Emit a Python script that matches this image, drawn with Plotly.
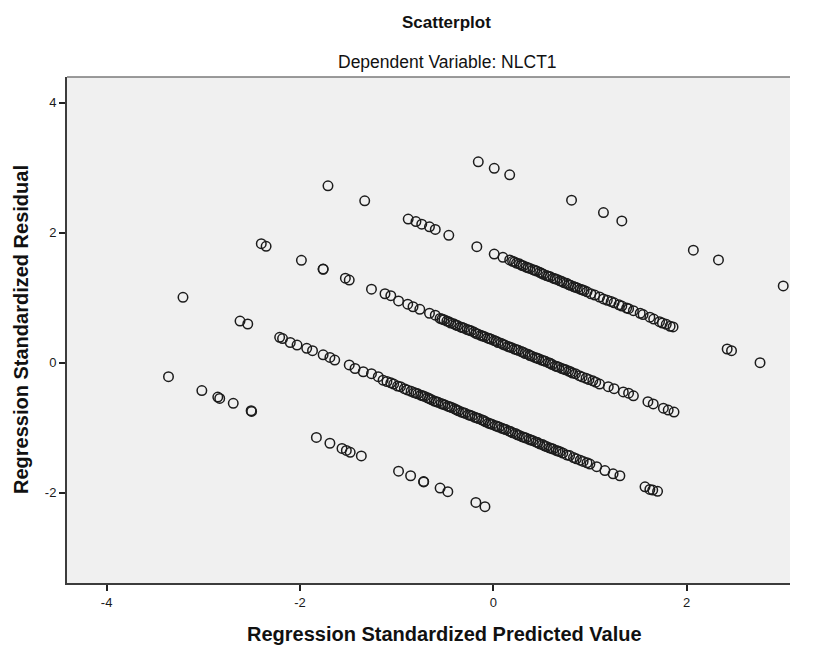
import plotly.graph_objects as go

# Band with highest residual level
top_x = [-0.155, 0.01, 0.17, 0.81, 1.14, 1.33, 2.07, 2.33, 3.00]
top_y = [3.09, 2.99, 2.89, 2.50, 2.31, 2.18, 1.73, 1.58, 1.18]

# Band A
a_x = [-1.71, -1.33, -0.88, -0.80, -0.74, -0.66, -0.60, -0.46, -0.17, 0.01, 0.10,
       0.17, 0.20, 0.24, 0.27, 0.31, 0.34, 0.38, 0.41, 0.45, 0.48, 0.52, 0.55, 0.59,
       0.62, 0.66, 0.69, 0.73, 0.76, 0.80, 0.83, 0.87, 0.90, 0.94, 0.97, 1.01, 1.05,
       1.10, 1.14, 1.18, 1.22, 1.25, 1.30, 1.33, 1.38, 1.40, 1.45, 1.52, 1.55, 1.62,
       1.66, 1.72, 1.75, 1.79, 1.83, 1.86, 2.42, 2.465, 2.76,
       0.22, 0.29, 0.36, 0.43, 0.50, 0.57, 0.64, 0.71, 0.78, 0.85, 0.92]
a_y = [2.72, 2.49, 2.21, 2.17, 2.13, 2.09, 2.05, 1.96, 1.785, 1.67, 1.62,
       1.58, 1.56, 1.53, 1.52, 1.49, 1.47, 1.45, 1.43, 1.41, 1.39, 1.36, 1.34, 1.32,
       1.30, 1.28, 1.26, 1.23, 1.22, 1.19, 1.17, 1.15, 1.13, 1.11, 1.09, 1.06, 1.04,
       1.01, 0.98, 0.96, 0.94, 0.92, 0.89, 0.87, 0.84, 0.83, 0.80, 0.76, 0.74, 0.70,
       0.67, 0.63, 0.61, 0.59, 0.56, 0.55, 0.21, 0.185, 0.0,
       1.55, 1.50, 1.46, 1.42, 1.375, 1.33, 1.29, 1.25, 1.20, 1.16, 1.12]

# Band B
b_x = [-2.40, -2.35, -1.985, -1.76, -1.76, -1.53, -1.49, -1.26, -1.12, -1.06, -0.98,
       -0.885, -0.83, -0.76, -0.66, -0.60,
       -0.55, -0.51, -0.48, -0.44, -0.41, -0.37, -0.34, -0.30, -0.27, -0.23, -0.20,
       -0.16, -0.13, -0.09, -0.06, -0.02, 0.01, 0.05, 0.08, 0.12, 0.15, 0.19, 0.22,
       0.26, 0.29, 0.33, 0.36, 0.40, 0.43, 0.47, 0.50, 0.54, 0.57, 0.61, 0.64, 0.68,
       0.71, 0.75, 0.78, 0.82, 0.85, 0.89, 0.92, 0.96, 0.99, 1.03, 1.06, 1.10,
       1.19, 1.25, 1.345, 1.40, 1.45, 1.60, 1.655, 1.76, 1.81, 1.87,
       -0.53, -0.46, -0.39, -0.32, -0.25, -0.18, -0.11, -0.04, 0.03, 0.10, 0.17,
       0.24, 0.31, 0.38, 0.45, 0.52, 0.59, 0.66, 0.73, 0.80]
b_y = [1.83, 1.79, 1.575, 1.44, 1.437, 1.30, 1.27, 1.13, 1.06, 1.03, 0.95,
       0.90, 0.86, 0.82, 0.76, 0.73,
       0.68, 0.66, 0.64, 0.61, 0.60, 0.57, 0.55, 0.53, 0.51, 0.49, 0.47,
       0.44, 0.42, 0.40, 0.38, 0.36, 0.34, 0.31, 0.30, 0.27, 0.25, 0.23, 0.21,
       0.19, 0.17, 0.14, 0.13, 0.10, 0.08, 0.06, 0.04, 0.02, 0.00, -0.03, -0.05, -0.07,
       -0.09, -0.11, -0.13, -0.16, -0.17, -0.20, -0.22, -0.24, -0.26, -0.28, -0.30, -0.33,
       -0.37, -0.40, -0.45, -0.47, -0.51, -0.60, -0.635, -0.70, -0.73, -0.76,
       0.67, 0.63, 0.58, 0.54, 0.50, 0.45, 0.41, 0.37, 0.33, 0.28, 0.24,
       0.20, 0.16, 0.11, 0.07, 0.03, -0.01, -0.06, -0.10, -0.14]

# Band C
c_x = [-3.21, -2.62, -2.54, -2.21, -2.18, -2.10, -2.03, -1.93, -1.87, -1.76, -1.69,
       -1.64, -1.49, -1.43, -1.345, -1.26, -1.19, -1.14,
       -1.10, -1.06, -1.03, -0.99, -0.96, -0.92, -0.89, -0.85, -0.82, -0.78, -0.75,
       -0.71, -0.68, -0.64, -0.61, -0.57, -0.54, -0.50, -0.47, -0.43, -0.40, -0.36,
       -0.33, -0.29, -0.26, -0.22, -0.19, -0.15, -0.12, -0.08, -0.05, -0.01, 0.02,
       0.06, 0.09, 0.13, 0.16, 0.20, 0.23, 0.27, 0.30, 0.34, 0.37, 0.41, 0.44, 0.48,
       0.51, 0.55, 0.58, 0.62, 0.65, 0.69, 0.72, 0.76, 0.79, 0.83, 0.86, 0.90, 0.93,
       0.97, 1.00, 1.07, 1.155, 1.24, 1.31, 1.57, 1.62, 1.65, 1.70,
       -0.80, -0.73, -0.66, -0.59, -0.52, -0.45, -0.38, -0.31, -0.24, -0.17, -0.10,
       -0.03, 0.04, 0.11, 0.18, 0.25, 0.32, 0.39, 0.46, 0.53, 0.60, 0.67]
c_y = [1.006, 0.64, 0.595, 0.39, 0.37, 0.31, 0.27, 0.22, 0.185, 0.12, 0.08,
       0.04, -0.035, -0.09, -0.14, -0.17, -0.215, -0.27,
       -0.29, -0.31, -0.33, -0.36, -0.37, -0.40, -0.42, -0.44, -0.46, -0.48, -0.50,
       -0.52, -0.54, -0.57, -0.59, -0.61, -0.63, -0.65, -0.67, -0.69, -0.71, -0.74,
       -0.76, -0.78, -0.80, -0.82, -0.84, -0.86, -0.88, -0.91, -0.93, -0.95, -0.97,
       -0.99, -1.01, -1.03, -1.05, -1.08, -1.09, -1.12, -1.14, -1.16, -1.18, -1.20, -1.22, -1.25,
       -1.26, -1.29, -1.31, -1.33, -1.35, -1.37, -1.39, -1.42, -1.43, -1.46, -1.48, -1.50, -1.52,
       -1.54, -1.56, -1.60, -1.66, -1.71, -1.74, -1.91, -1.95, -1.96, -1.98,
       -0.47, -0.51, -0.555, -0.60, -0.64, -0.68, -0.725, -0.77, -0.81, -0.85, -0.89,
       -0.94, -0.98, -1.02, -1.06, -1.11, -1.15, -1.19, -1.23, -1.28, -1.32, -1.36]

# Band D (lowest)
d_x = [-3.36, -3.015, -2.85, -2.83, -2.69, -2.505, -2.50, -1.83, -1.69, -1.565, -1.52,
       -1.48, -1.365, -0.98, -0.855, -0.72, -0.72, -0.55, -0.47, -0.18, -0.086]
d_y = [-0.215, -0.43, -0.53, -0.55, -0.625, -0.74, -0.75, -1.15, -1.24, -1.32, -1.35,
       -1.38, -1.435, -1.67, -1.74, -1.83, -1.835, -1.93, -1.985, -2.15, -2.215]

x_ticks = [-4, -2, 0, 2]
y_ticks = [-2, 0, 2, 4]

xs = top_x + a_x + b_x + c_x + d_x
ys = top_y + a_y + b_y + c_y + d_y

fig = go.Figure()
fig.add_trace(go.Scatter(
    x=xs, y=ys, mode="markers",
    marker=dict(symbol="circle-open", size=9.5, color="#1c1c1c", line=dict(width=1.5)),
    showlegend=False, hoverinfo="skip"))

OFF = 8  # page body margin of the browser
L, R, T, B = 67 - OFF, 790 - OFF, 77 - OFF, 583 - OFF
W, H = 813 - OFF, 647 - OFF

FONT = "Liberation Sans, Arial"
axis_common = dict(showgrid=False, zeroline=False, showline=True, linecolor="#3c3c3c",
                   linewidth=2, mirror=False, ticks="outside", ticklen=6, tickwidth=1.5,
                   tickcolor="#222", tickfont=dict(family=FONT, size=13, color="#1a1a1a"))

fig.update_layout(
    width=W, height=H,
    margin=dict(l=L, r=W - R, t=T, b=H - B),
    paper_bgcolor="white", plot_bgcolor="#F0F0F0",
    xaxis=dict(range=[-4.41, 3.07], tickvals=x_ticks, ticktext=[str(v) for v in x_ticks], **axis_common),
    yaxis=dict(range=[-3.39, 4.395], tickvals=y_ticks, ticktext=[str(v) for v in y_ticks], **axis_common),
    font=dict(family=FONT, color="#111"),
)

# top border of the frame
fig.add_shape(type="line", xref="paper", yref="paper", x0=0, x1=1, y0=1, y1=1,
              line=dict(color="#7a7a7a", width=1.5))

px = lambda p: (p - OFF - L) / (R - L)
py = lambda p: (B - (p - OFF)) / (B - T)
fig.add_annotation(text="<b>Scatterplot</b>", xref="paper", yref="paper", x=px(446), y=py(23),
                   showarrow=False, font=dict(size=17, color="#111"), xanchor="center", yanchor="middle")
fig.add_annotation(text="Dependent Variable: NLCT1", xref="paper", yref="paper", x=px(447), y=py(62),
                   showarrow=False, font=dict(size=17.5, color="#111"), xanchor="center", yanchor="middle")
fig.add_annotation(text="<b>Regression Standardized Predicted Value</b>", xref="paper", yref="paper",
                   x=px(444), y=py(634), showarrow=False, font=dict(size=20, color="#111"),
                   xanchor="center", yanchor="middle")
fig.add_annotation(text="<b>Regression Standardized Residual</b>", xref="paper", yref="paper",
                   x=px(21), y=py(330), showarrow=False, textangle=-90, font=dict(size=20, color="#111"),
                   xanchor="center", yanchor="middle")

fig.write_html("out.html")
